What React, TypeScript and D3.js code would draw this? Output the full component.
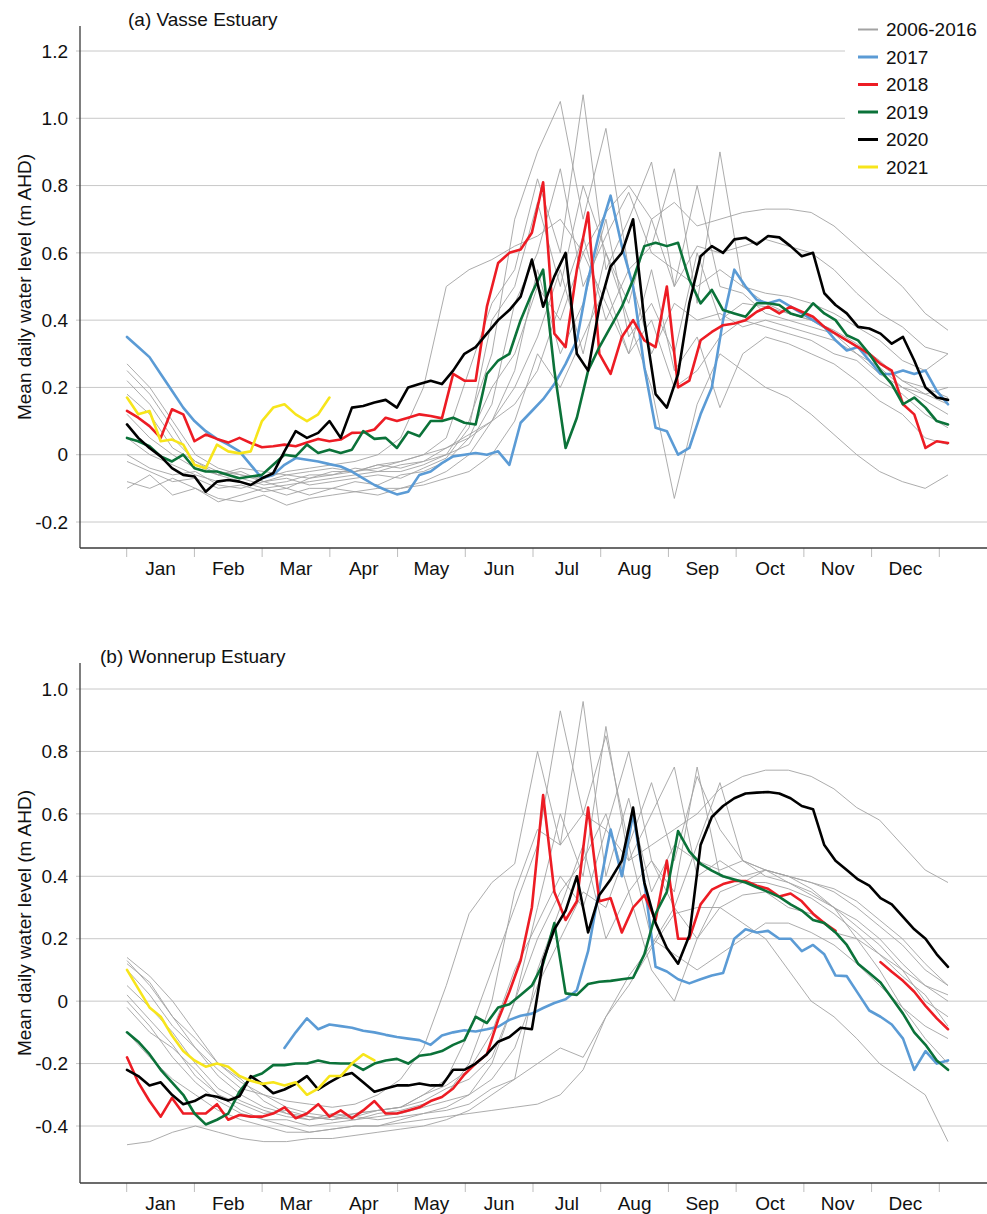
import React from 'react';
import * as d3 from 'd3';

// ---- shared labels and styles ----
const MONTHS = ['Jan', 'Feb', 'Mar', 'Apr', 'May', 'Jun', 'Jul', 'Aug', 'Sep', 'Oct', 'Nov', 'Dec'];
const LEGEND_LABELS = ['2006-2016', '2017', '2018', '2019', '2020', '2021'];
const YEAR_COLORS = ['#a3a3a3', '#5b9bd5', '#ed1c24', '#0b7239', '#000000', '#f7e51b'];

const VASSE_TICKS = [-0.2, 0, 0.2, 0.4, 0.6, 0.8, 1.0, 1.2];
const WONNERUP_TICKS = [-0.4, -0.2, 0, 0.2, 0.4, 0.6, 0.8, 1.0];

type Series = (number | null)[];

// ---- Vasse Estuary: recent years, ~5-day steps through the year (74 points) ----
const vasse2017: Series = [0.35, 0.32, 0.29, 0.24, 0.19, 0.14, 0.10, 0.07, 0.047, 0.03, 0.01, -0.03, -0.07, -0.06, -0.03, -0.01, -0.015, -0.02, -0.028, -0.035, -0.05, -0.07, -0.09, -0.105, -0.118, -0.11, -0.06, -0.05, -0.025, -0.005, 0.0, 0.005, 0.0, 0.01, -0.03, 0.095, 0.13, 0.165, 0.21, 0.27, 0.34, 0.52, 0.66, 0.77, 0.62, 0.5, 0.26, 0.08, 0.07, 0.0, 0.02, 0.12, 0.2, 0.4, 0.55, 0.5, 0.46, 0.45, 0.46, 0.44, 0.42, 0.4, 0.38, 0.34, 0.31, 0.32, 0.28, 0.24, 0.24, 0.25, 0.24, 0.25, 0.19, 0.15];
const vasse2018: Series = [0.13, 0.11, 0.085, 0.05, 0.135, 0.12, 0.04, 0.06, 0.047, 0.036, 0.05, 0.035, 0.022, 0.025, 0.03, 0.025, 0.036, 0.047, 0.04, 0.045, 0.065, 0.066, 0.075, 0.11, 0.1, 0.11, 0.12, 0.115, 0.108, 0.24, 0.22, 0.22, 0.44, 0.57, 0.6, 0.61, 0.66, 0.81, 0.36, 0.32, 0.55, 0.72, 0.3, 0.24, 0.35, 0.4, 0.34, 0.32, 0.5, 0.2, 0.22, 0.34, 0.365, 0.385, 0.39, 0.4, 0.425, 0.44, 0.42, 0.44, 0.425, 0.41, 0.38, 0.36, 0.34, 0.32, 0.3, 0.27, 0.25, 0.15, 0.12, 0.02, 0.04, 0.035];
const vasse2019: Series = [0.05, 0.04, 0.025, -0.005, -0.02, 0.0, -0.04, -0.05, -0.05, -0.06, -0.07, -0.065, -0.06, -0.03, 0.0, -0.005, 0.03, 0.005, 0.015, 0.005, 0.015, 0.07, 0.047, 0.05, 0.02, 0.068, 0.055, 0.1, 0.1, 0.11, 0.095, 0.09, 0.24, 0.28, 0.3, 0.4, 0.48, 0.55, 0.25, 0.02, 0.11, 0.25, 0.32, 0.38, 0.44, 0.52, 0.62, 0.63, 0.62, 0.63, 0.52, 0.45, 0.49, 0.43, 0.42, 0.41, 0.45, 0.45, 0.445, 0.42, 0.41, 0.45, 0.42, 0.4, 0.355, 0.34, 0.3, 0.25, 0.21, 0.15, 0.17, 0.14, 0.1, 0.09];
const vasse2020: Series = [0.09, 0.05, 0.02, -0.005, -0.04, -0.06, -0.065, -0.11, -0.08, -0.075, -0.08, -0.09, -0.07, -0.055, 0.01, 0.07, 0.05, 0.065, 0.1, 0.05, 0.14, 0.145, 0.155, 0.163, 0.14, 0.2, 0.21, 0.22, 0.21, 0.25, 0.3, 0.32, 0.36, 0.4, 0.43, 0.47, 0.58, 0.44, 0.53, 0.6, 0.3, 0.25, 0.44, 0.56, 0.6, 0.7, 0.4, 0.18, 0.14, 0.24, 0.45, 0.59, 0.62, 0.6, 0.64, 0.645, 0.625, 0.65, 0.646, 0.62, 0.59, 0.6, 0.48, 0.445, 0.42, 0.38, 0.375, 0.36, 0.33, 0.35, 0.28, 0.2, 0.17, 0.163];
const vasse2021: Series = [0.17, 0.12, 0.13, 0.04, 0.045, 0.03, -0.03, -0.04, 0.03, 0.01, 0.004, 0.01, 0.1, 0.14, 0.15, 0.12, 0.1, 0.12, 0.17];

// ---- Vasse Estuary: 2006-2016, ~10-day steps (37 points) ----
const vasseHistoric: Series[] = [
  [0.22, 0.15, 0.05, -0.02, -0.05, -0.06, -0.07, -0.05, -0.04, -0.03, -0.02, 0.0, 0.05, 0.2, 0.5, 0.55, 0.58, 0.62, 0.65, 0.7, 0.6, 0.72, 0.8, 0.7, 0.75, 0.68, 0.7, 0.72, 0.73, 0.73, 0.72, 0.68, 0.62, 0.56, 0.5, 0.42, 0.37],
  [0.27, 0.2, 0.1, 0.0, -0.04, -0.06, -0.08, -0.06, -0.07, -0.05, -0.05, -0.04, -0.02, 0.0, 0.05, 0.25, 0.45, 0.55, 0.82, 0.6, 1.07, 0.55, 0.7, 0.87, 0.5, 0.62, 0.6, 0.62, 0.64, 0.62, 0.6, 0.55, 0.48, 0.42, 0.38, 0.32, 0.3],
  [0.25, 0.18, 0.08, -0.03, -0.06, -0.08, -0.1, -0.09, -0.08, -0.07, -0.06, -0.05, -0.05, -0.03, 0.0, 0.1, 0.3, 0.7, 0.9, 1.05, 0.7, 0.97, 0.55, 0.62, 0.85, 0.45, 0.9, 0.5, 0.45, 0.42, 0.4, 0.36, 0.32, 0.27, 0.22, 0.2, 0.17],
  [-0.08, -0.1, -0.07, -0.1, -0.13, -0.14, -0.12, -0.15, -0.13, -0.12, -0.11, -0.1, -0.1, -0.08, -0.05, 0.0, 0.1, 0.2, 0.35, 0.55, 0.3, 0.6, 0.4, 0.2, -0.13, 0.15, 0.3, 0.25, 0.2, 0.17, 0.12, 0.06, 0.0, -0.05, -0.08, -0.1, -0.06],
  [-0.1, -0.06, -0.12, -0.1, -0.14, -0.12, -0.1, -0.12, -0.1, -0.1, -0.08, -0.09, -0.06, -0.05, -0.02, 0.05, 0.2, 0.3, 0.5, 0.4, 0.6, 0.45, 0.3, 0.55, 0.25, 0.35, 0.14, 0.3, 0.35, 0.33, 0.3, 0.27, 0.22, 0.16, 0.12, 0.05, 0.03],
  [0.18, 0.12, 0.02, -0.02, -0.06, -0.05, -0.08, -0.1, -0.07, -0.06, -0.05, -0.03, -0.04, -0.02, 0.0, 0.03, 0.15, 0.45, 0.6, 0.85, 0.5, 0.65, 0.78, 0.6, 0.55, 0.5, 0.55, 0.5, 0.48, 0.47, 0.45, 0.42, 0.38, 0.34, 0.28, 0.25, 0.3],
  [0.05, 0.0, -0.03, -0.06, -0.08, -0.07, -0.09, -0.08, -0.06, -0.06, -0.04, -0.05, -0.03, -0.02, 0.02, 0.05, 0.1, 0.25, 0.55, 0.3, 0.45, 0.7, 0.35, 0.45, 0.3, 0.6, 0.4, 0.45, 0.44, 0.42, 0.4, 0.37, 0.33, 0.28, 0.22, 0.18, 0.15],
  [0.0, -0.04, -0.06, -0.05, -0.09, -0.1, -0.08, -0.07, -0.09, -0.08, -0.07, -0.06, -0.07, -0.04, -0.01, 0.08, 0.4, 0.5, 0.75, 0.5, 0.8, 0.6, 0.45, 0.7, 0.5, 0.8, 0.5, 0.48, 0.42, 0.4, 0.38, 0.36, 0.3, 0.26, 0.2, 0.16, 0.12],
  [0.12, 0.05, 0.0, -0.04, -0.06, -0.04, -0.05, -0.06, -0.05, -0.04, -0.05, -0.03, -0.02, 0.0, 0.02, 0.06, 0.1, 0.15, 0.25, 0.45, 0.65, 0.4, 0.55, 0.3, 0.45, 0.4, 0.42, 0.38, 0.4, 0.38, 0.36, 0.34, 0.3, 0.24, 0.2, 0.18, 0.2],
  [-0.02, -0.05, -0.08, -0.07, -0.1, -0.09, -0.11, -0.1, -0.12, -0.1, -0.11, -0.12, -0.1, -0.09, -0.07, -0.05, 0.0, 0.1, 0.3, 0.2, 0.35, 0.5, 0.3, 0.4, 0.2, 0.25, 0.35, 0.4, 0.38, 0.36, 0.34, 0.3, 0.28, 0.22, 0.18, 0.12, 0.08],
];

// ---- Wonnerup Estuary: recent years (74 points) ----
const wonnerup2017: Series = [null, null, null, null, null, null, null, null, null, null, null, null, null, null, -0.15, -0.1, -0.055, -0.09, -0.075, -0.08, -0.085, -0.095, -0.1, -0.108, -0.115, -0.12, -0.125, -0.14, -0.11, -0.1, -0.093, -0.097, -0.09, -0.082, -0.06, -0.047, -0.04, -0.022, -0.006, 0.006, 0.035, 0.16, 0.36, 0.55, 0.4, 0.6, 0.38, 0.11, 0.095, 0.07, 0.057, 0.07, 0.082, 0.09, 0.2, 0.23, 0.22, 0.225, 0.2, 0.2, 0.16, 0.18, 0.15, 0.082, 0.08, 0.025, -0.03, -0.05, -0.075, -0.12, -0.22, -0.16, -0.2, -0.19];
const wonnerup2018: Series = [-0.18, -0.26, -0.32, -0.37, -0.31, -0.36, -0.36, -0.36, -0.33, -0.38, -0.365, -0.37, -0.37, -0.36, -0.34, -0.375, -0.36, -0.33, -0.37, -0.35, -0.375, -0.35, -0.32, -0.36, -0.36, -0.35, -0.34, -0.32, -0.307, -0.28, -0.235, -0.2, -0.17, -0.06, 0.03, 0.13, 0.3, 0.66, 0.35, 0.26, 0.32, 0.62, 0.32, 0.33, 0.22, 0.3, 0.34, 0.26, 0.45, 0.2, 0.2, 0.31, 0.357, 0.375, 0.385, 0.385, 0.37, 0.36, 0.335, 0.345, 0.32, 0.28, 0.25, 0.225, null, null, null, 0.125, 0.094, 0.065, 0.03, -0.015, -0.055, -0.09];
const wonnerup2019: Series = [-0.1, -0.13, -0.17, -0.22, -0.26, -0.3, -0.36, -0.395, -0.38, -0.36, -0.29, -0.245, -0.232, -0.205, -0.205, -0.2, -0.2, -0.19, -0.198, -0.2, -0.2, -0.22, -0.2, -0.19, -0.185, -0.2, -0.175, -0.17, -0.16, -0.14, -0.125, -0.05, -0.07, -0.02, -0.01, 0.02, 0.05, 0.12, 0.25, 0.025, 0.02, 0.055, 0.062, 0.065, 0.07, 0.075, 0.15, 0.28, 0.35, 0.545, 0.48, 0.44, 0.418, 0.4, 0.39, 0.38, 0.365, 0.35, 0.334, 0.31, 0.29, 0.26, 0.25, 0.22, 0.18, 0.12, 0.09, 0.06, 0.01, -0.04, -0.1, -0.14, -0.19, -0.22];
const wonnerup2020: Series = [-0.22, -0.24, -0.27, -0.26, -0.3, -0.33, -0.32, -0.3, -0.306, -0.318, -0.305, -0.24, -0.265, -0.295, -0.283, -0.265, -0.24, -0.283, -0.26, -0.24, -0.23, -0.26, -0.29, -0.28, -0.27, -0.27, -0.264, -0.27, -0.27, -0.22, -0.22, -0.2, -0.17, -0.13, -0.115, -0.085, -0.09, 0.13, 0.23, 0.29, 0.4, 0.22, 0.34, 0.39, 0.45, 0.62, 0.38, 0.25, 0.17, 0.12, 0.21, 0.5, 0.59, 0.625, 0.65, 0.665, 0.668, 0.67, 0.665, 0.65, 0.625, 0.615, 0.5, 0.45, 0.42, 0.39, 0.37, 0.33, 0.31, 0.27, 0.23, 0.2, 0.15, 0.11];
const wonnerup2021: Series = [0.1, 0.04, -0.02, -0.05, -0.11, -0.16, -0.19, -0.21, -0.2, -0.21, -0.24, -0.255, -0.265, -0.26, -0.27, -0.26, -0.3, -0.28, -0.24, -0.24, -0.2, -0.17, -0.19];

// ---- Wonnerup Estuary: 2006-2016 (37 points) ----
const wonnerupHistoric: Series[] = [
  [0.13, 0.05, -0.05, -0.15, -0.22, -0.28, -0.3, -0.32, -0.33, -0.34, -0.33, -0.3, -0.25, -0.15, 0.05, 0.28, 0.38, 0.44, 0.8, 0.5, 0.6, 0.55, 0.45, 0.5, 0.55, 0.6, 0.68, 0.72, 0.74, 0.74, 0.72, 0.68, 0.62, 0.58, 0.5, 0.42, 0.38],
  [0.14, 0.08, 0.0, -0.1, -0.2, -0.26, -0.3, -0.34, -0.36, -0.37, -0.36, -0.35, -0.34, -0.3, -0.25, -0.1, 0.1, 0.3, 0.5, 0.93, 0.6, 0.85, 0.5, 0.7, 0.45, 0.72, 0.55, 0.45, 0.42, 0.4, 0.38, 0.36, 0.32, 0.26, 0.2, 0.12, 0.05],
  [0.12, 0.06, -0.05, -0.12, -0.2, -0.25, -0.32, -0.36, -0.38, -0.37, -0.38, -0.36, -0.35, -0.33, -0.3, -0.2, 0.0, 0.35, 0.55, 0.5, 0.96, 0.4, 0.65, 0.35, 0.5, 0.45, 0.42, 0.45, 0.4, 0.38, 0.35, 0.3, 0.26, 0.2, 0.12, 0.05, 0.0],
  [-0.46, -0.45, -0.42, -0.4, -0.42, -0.44, -0.45, -0.45, -0.44, -0.44, -0.43, -0.42, -0.41, -0.4, -0.38, -0.35, -0.3, -0.25, -0.2, -0.15, -0.18, -0.05, 0.08, 0.18, 0.3, 0.2, 0.35, 0.38, 0.42, 0.4, 0.36, 0.3, 0.2, 0.1, -0.02, -0.12, -0.2],
  [0.0, -0.08, -0.18, -0.26, -0.32, -0.36, -0.38, -0.4, -0.42, -0.41, -0.4, -0.4, -0.38, -0.36, -0.35, -0.33, -0.28, -0.25, 0.1, 0.3, 0.5, 0.2, 0.35, 0.1, 0.0, 0.2, 0.3, 0.25, 0.2, 0.1, 0.0, -0.05, -0.12, -0.2, -0.25, -0.3, -0.45],
  [-0.02, -0.1, -0.15, -0.22, -0.3, -0.35, -0.38, -0.38, -0.4, -0.39, -0.38, -0.37, -0.36, -0.34, -0.32, -0.3, -0.2, 0.0, 0.3, 0.6, 0.4, 0.88, 0.45, 0.6, 0.75, 0.4, 0.45, 0.4, 0.42, 0.38, 0.34, 0.3, 0.24, 0.18, 0.1, 0.0, -0.05],
  [0.05, -0.02, -0.1, -0.2, -0.28, -0.32, -0.35, -0.37, -0.38, -0.36, -0.37, -0.35, -0.34, -0.3, -0.27, -0.22, -0.1, 0.1, 0.25, 0.4, 0.3, 0.55, 0.8, 0.45, 0.35, 0.75, 0.4, 0.38, 0.38, 0.36, 0.33, 0.28, 0.22, 0.15, 0.08, 0.02, -0.08],
  [0.1, 0.02, -0.08, -0.15, -0.24, -0.3, -0.34, -0.36, -0.37, -0.38, -0.37, -0.38, -0.37, -0.36, -0.34, -0.3, -0.25, -0.15, 0.05, 0.2, 0.35, 0.3, 0.5, 0.2, 0.15, 0.1, 0.15, 0.2, 0.25, 0.25, 0.22, 0.18, 0.12, 0.05, -0.02, -0.08, -0.12],
  [-0.1, -0.18, -0.25, -0.3, -0.35, -0.38, -0.4, -0.42, -0.42, -0.41, -0.4, -0.4, -0.39, -0.38, -0.37, -0.36, -0.35, -0.34, -0.33, -0.3, -0.22, -0.05, 0.05, 0.17, 0.28, 0.3, 0.3, 0.34, 0.35, 0.3, 0.28, 0.22, 0.2, 0.15, 0.1, 0.05, 0.02],
  [0.02, -0.06, -0.14, -0.24, -0.3, -0.33, -0.36, -0.35, -0.37, -0.38, -0.36, -0.35, -0.34, -0.32, -0.28, -0.25, -0.18, 0.0, 0.2, 0.35, 0.45, 0.6, 0.35, 0.45, 0.3, 0.5, 0.7, 0.45, 0.42, 0.4, 0.38, 0.35, 0.3, 0.24, 0.18, 0.1, 0.05],
];

// ---- layout ----
const W = 987;
const H = 1214;
const FONT = '"Liberation Sans", Arial, Helvetica, sans-serif';
const AXIS_X = 80;
const PLOT_LEFT = 127;
const PLOT_RIGHT = 948;

interface PanelProps {
  title: string;
  titleX: number;
  titleY: number;
  axisTop: number;
  axisBottom: number;
  domain: [number, number];
  range: [number, number];
  ticks: number[];
  historic: Series[];
  years: Series[];
  showLegend: boolean;
}

// tick text with a plain hyphen for negatives and a bare "0"
const fmt = (v: number) => (Math.abs(v) < 1e-9 ? '0' : v.toFixed(1));

function Panel(p: PanelProps) {
  const y = d3.scaleLinear().domain(p.domain).range(p.range);
  const xDaily = d3.scaleLinear().domain([0, 73]).range([PLOT_LEFT, PLOT_RIGHT]);
  const xHist = d3.scaleLinear().domain([0, 36]).range([PLOT_LEFT, PLOT_RIGHT]);
  const xMonth = d3.scaleLinear().domain([0, 12]).range([126.7, 939.3]);

  const lineDaily = d3
    .line<number | null>()
    .defined((d) => d != null)
    .x((_, i) => xDaily(i))
    .y((d) => y(d as number));
  const lineHist = d3
    .line<number | null>()
    .defined((d) => d != null)
    .x((_, i) => xHist(i))
    .y((d) => y(d as number));

  const midY = (p.axisTop + p.axisBottom) / 2;

  return (
    <g>
      {/* gridlines */}
      {p.ticks.map((t) => (
        <line key={'g' + t} x1={76} x2={W} y1={y(t)} y2={y(t)} stroke="#c8c8c8" strokeWidth={1} />
      ))}
      {/* y tick labels */}
      {p.ticks.map((t) => (
        <text key={'t' + t} x={68} y={y(t)} dy="0.35em" textAnchor="end" fontSize={19} fontFamily={FONT} fill="#111">
          {fmt(t)}
        </text>
      ))}
      {/* y axis title */}
      <text
        transform={`translate(24,${midY}) rotate(-90)`}
        textAnchor="middle"
        dy="0.35em"
        fontSize={19}
        fontFamily={FONT}
        fill="#111"
      >
        Mean daily water level (m AHD)
      </text>
      {/* month ticks and labels */}
      {d3.range(13).map((m) => (
        <line key={'m' + m} x1={xMonth(m)} x2={xMonth(m)} y1={p.axisBottom} y2={p.axisBottom + 9} stroke="#bdbdbd" strokeWidth={1} />
      ))}
      {MONTHS.map((m, i) => (
        <text key={m} x={xMonth(i + 0.5)} y={p.axisBottom + 20} dy="0.35em" textAnchor="middle" fontSize={19} fontFamily={FONT} fill="#111">
          {m}
        </text>
      ))}
      {/* 2006-2016 */}
      {p.historic.map((s, i) => (
        <path key={'h' + i} d={lineHist(s) || ''} fill="none" stroke={YEAR_COLORS[0]} strokeWidth={0.9} strokeLinejoin="round" />
      ))}
      {/* 2017-2021 */}
      {p.years.map((s, i) => (
        <path
          key={'y' + i}
          d={lineDaily(s) || ''}
          fill="none"
          stroke={YEAR_COLORS[i + 1]}
          strokeWidth={2.6}
          strokeLinejoin="round"
          strokeLinecap="round"
        />
      ))}
      {/* axes */}
      <line x1={AXIS_X} x2={AXIS_X} y1={p.axisTop} y2={p.axisBottom} stroke="#3a3a3a" strokeWidth={1.3} />
      <line x1={AXIS_X} x2={W} y1={p.axisBottom} y2={p.axisBottom} stroke="#3a3a3a" strokeWidth={1.3} />
      {/* panel title */}
      <text x={p.titleX} y={p.titleY} fontSize={19} fontFamily={FONT} fill="#111">
        {p.title}
      </text>
      {p.showLegend && (
        <g>
          <rect x={845} y={0} width={W - 845} height={178} fill="#fff" />
          {LEGEND_LABELS.map((lab, i) => {
            const ly = 29.5 + i * 27.5;
            return (
              <g key={lab}>
                <line x1={858} x2={878} y1={ly} y2={ly} stroke={YEAR_COLORS[i]} strokeWidth={i === 0 ? 2 : 3} />
                <text x={886} y={ly} dy="0.35em" fontSize={19} fontFamily={FONT} fill="#111">
                  {lab}
                </text>
              </g>
            );
          })}
        </g>
      )}
    </g>
  );
}

export default function App() {
  return (
    <svg
      width={W}
      height={H}
      viewBox={`0 0 ${W} ${H}`}
      style={{ position: 'absolute', left: 0, top: 0, background: '#fff' }}
    >
      <rect width={W} height={H} fill="#fff" />
      <Panel
        title="(a) Vasse Estuary"
        titleX={128}
        titleY={26}
        axisTop={26}
        axisBottom={548}
        domain={[-0.2, 1.2]}
        range={[522, 51]}
        ticks={VASSE_TICKS}
        historic={vasseHistoric}
        years={[vasse2017, vasse2018, vasse2019, vasse2020, vasse2021]}
        showLegend={true}
      />
      <Panel
        title="(b) Wonnerup Estuary"
        titleX={100}
        titleY={663}
        axisTop={663}
        axisBottom={1183}
        domain={[-0.4, 1.0]}
        range={[1126, 689]}
        ticks={WONNERUP_TICKS}
        historic={wonnerupHistoric}
        years={[wonnerup2017, wonnerup2018, wonnerup2019, wonnerup2020, wonnerup2021]}
        showLegend={false}
      />
    </svg>
  );
}
